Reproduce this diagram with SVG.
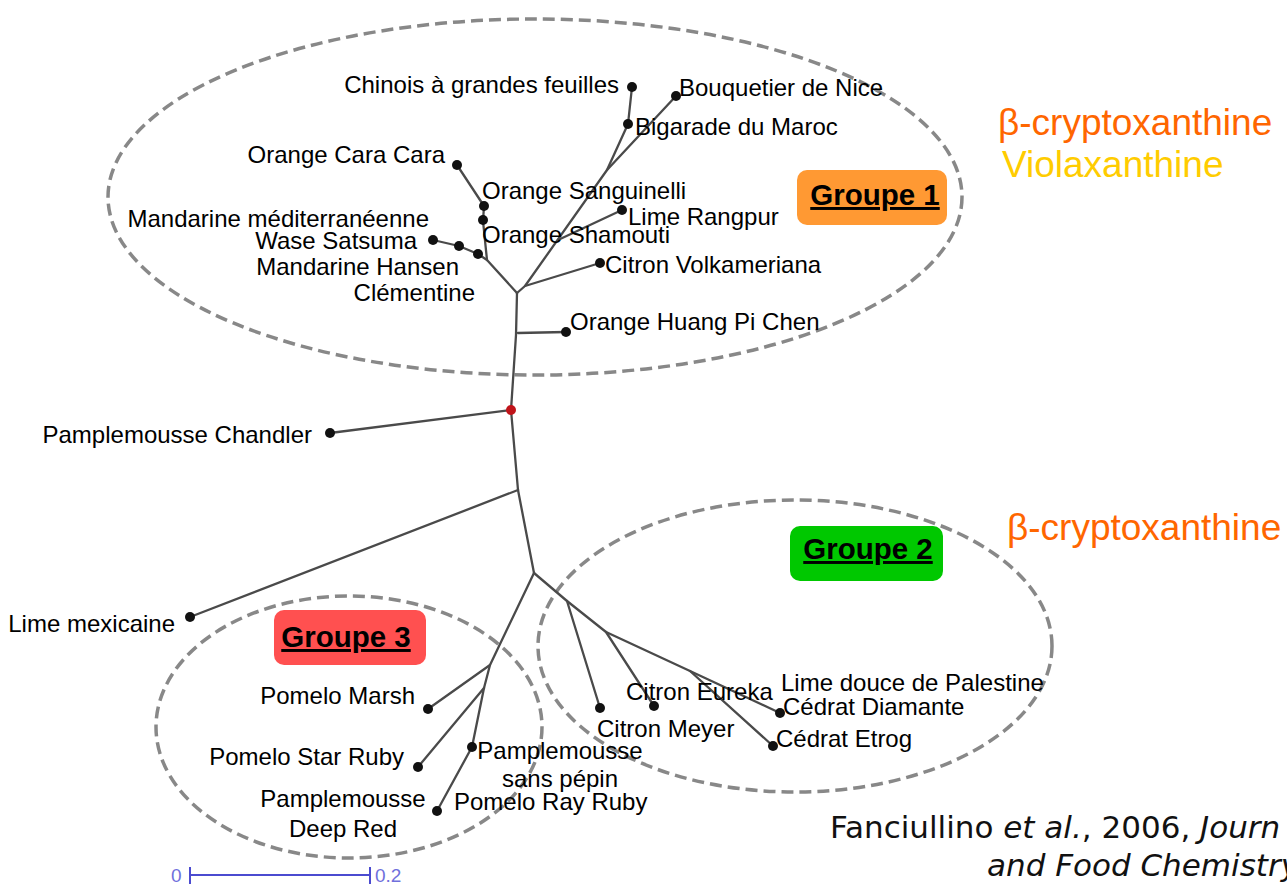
<svg xmlns="http://www.w3.org/2000/svg" width="1287" height="893" viewBox="0 0 1287 893">
<defs>
<style>
.lbl{font-family:"Liberation Sans",Arial,sans-serif;font-size:24px;fill:#000}
.grp{font-family:"Liberation Sans",Arial,sans-serif;font-size:29.5px;font-weight:bold;fill:#000;text-decoration:underline;text-anchor:middle}
.pig{font-family:"Liberation Sans",Arial,sans-serif;font-size:37px}
.cite{font-family:"DejaVu Sans","Liberation Sans",sans-serif;font-size:31px;fill:#111}
.ell{fill:none;stroke:#888;stroke-width:3.5;stroke-dasharray:12 6}
.br{fill:none;stroke:#4a4a4a;stroke-width:2.3;stroke-linejoin:round;stroke-linecap:round}
.nd{fill:#111}
.sc{stroke:#4b4bd0;stroke-width:2;fill:none}
.sct{font-family:"Liberation Sans",Arial,sans-serif;font-size:19px;fill:#7070dc}
</style>
</defs>
<rect width="1287" height="893" fill="#fff"/>

<g id="group-ellipses">
<ellipse id="ellipse-1" class="ell" cx="535" cy="197" rx="427" ry="178"/>
<ellipse id="ellipse-2" class="ell" cx="795" cy="646" rx="257" ry="146"/>
<ellipse id="ellipse-3" class="ell" cx="349" cy="727" rx="193" ry="131"/>
</g>

<g id="connectors">
<path class="br" d="M511,410 L516,335 L517,293"/>
<path class="br" d="M518,333 L566,332"/>
<path class="br" d="M517,293 L487,260 L483,221 L484,206 L457,165"/>
<path class="br" d="M487,260 L478,254 L459,246 L433,240"/>
<path class="br" d="M517,293 L525,286 L607,170 L628,124 L632,87"/>
<path class="br" d="M607,170 L676,96"/>
<path class="br" d="M558,240 L622,210"/>
<path class="br" d="M525,286 L600,263"/>
<path class="br" d="M511,410 L330,433"/>
<path class="br" d="M511,410 L518,490 L534,573"/>
<path class="br" d="M518,490 L190,617"/>
<path class="br" d="M534,573 L490,665 L484,688 L472,747 L437,811"/>
<path class="br" d="M490,665 L428,709"/>
<path class="br" d="M484,688 L418,767"/>
<path class="br" d="M534,573 L567,601 L606,632 L690,671 L780,713"/>
<path class="br" d="M690,671 L773,746"/>
<path class="br" d="M567,601 L600,708"/>
<path class="br" d="M606,632 L654,706"/>
</g>

<g id="root-node"><circle cx="511" cy="410" r="5" fill="#c0141a"/></g>

<g id="n-chinois"><circle class="nd" cx="632" cy="87" r="5"/><text class="lbl" x="619" y="93" text-anchor="end">Chinois à grandes feuilles</text></g>
<g id="n-bouquetier"><circle class="nd" cx="676" cy="96" r="5"/><text class="lbl" x="679" y="96">Bouquetier de Nice</text></g>
<g id="n-bigarade"><circle class="nd" cx="628" cy="124" r="5"/><text class="lbl" x="635" y="135">Bigarade du Maroc</text></g>
<g id="n-caracara"><circle class="nd" cx="457" cy="165" r="5"/><text class="lbl" x="445" y="163" text-anchor="end">Orange Cara Cara</text></g>
<g id="n-sanguinelli"><circle class="nd" cx="484" cy="206" r="5"/><text class="lbl" x="482" y="199">Orange Sanguinelli</text></g>
<g id="n-shamouti"><circle class="nd" cx="483" cy="220" r="5"/><text class="lbl" x="482" y="243">Orange Shamouti</text></g>
<g id="n-rangpur"><circle class="nd" cx="622" cy="210" r="5"/><text class="lbl" x="628" y="225">Lime Rangpur</text></g>
<g id="n-mandarine-med"><text class="lbl" x="429" y="227" text-anchor="end">Mandarine méditerranéenne</text></g>
<g id="n-wase"><circle class="nd" cx="433" cy="240" r="5"/><text class="lbl" x="417" y="249" text-anchor="end">Wase Satsuma</text></g>
<g id="n-hansen"><circle class="nd" cx="459" cy="246" r="5"/><text class="lbl" x="459" y="275" text-anchor="end">Mandarine Hansen</text></g>
<g id="n-clementine"><circle class="nd" cx="478" cy="254" r="5"/><text class="lbl" x="475" y="301" text-anchor="end">Clémentine</text></g>
<g id="n-volkameriana"><circle class="nd" cx="600" cy="263" r="5"/><text class="lbl" x="605" y="273">Citron Volkameriana</text></g>
<g id="n-huangpichen"><circle class="nd" cx="566" cy="332" r="5"/><text class="lbl" x="570" y="330">Orange Huang Pi Chen</text></g>
<g id="n-chandler"><circle class="nd" cx="330" cy="433" r="5"/><text class="lbl" x="312" y="443" text-anchor="end">Pamplemousse Chandler</text></g>
<g id="n-mexicaine"><circle class="nd" cx="190" cy="617" r="5"/><text class="lbl" x="175" y="632" text-anchor="end">Lime mexicaine</text></g>
<g id="n-marsh"><circle class="nd" cx="428" cy="709" r="5"/><text class="lbl" x="415" y="704" text-anchor="end">Pomelo Marsh</text></g>
<g id="n-starruby"><circle class="nd" cx="418" cy="767" r="5"/><text class="lbl" x="404" y="765" text-anchor="end">Pomelo Star Ruby</text></g>
<g id="n-deepred"><circle class="nd" cx="437" cy="811" r="5"/><text class="lbl" x="343" y="807" text-anchor="middle">Pamplemousse</text><text class="lbl" x="343" y="837" text-anchor="middle">Deep Red</text></g>
<g id="n-sanspepin"><circle class="nd" cx="472" cy="747" r="5"/><text class="lbl" x="560" y="759" text-anchor="middle">Pamplemousse</text><text class="lbl" x="560" y="787" text-anchor="middle">sans pépin</text></g>
<g id="n-rayruby"><text class="lbl" x="454" y="810">Pomelo Ray Ruby</text></g>
<g id="n-meyer"><circle class="nd" cx="600" cy="708" r="5"/><text class="lbl" x="597" y="737">Citron Meyer</text></g>
<g id="n-eureka"><circle class="nd" cx="654" cy="706" r="5"/><text class="lbl" x="626" y="700">Citron Eureka</text></g>
<g id="n-palestine"><text class="lbl" x="781" y="691">Lime douce de Palestine</text></g>
<g id="n-diamante"><circle class="nd" cx="780" cy="713" r="5"/><text class="lbl" x="783" y="715">Cédrat Diamante</text></g>
<g id="n-etrog"><circle class="nd" cx="773" cy="746" r="5"/><text class="lbl" x="776" y="747">Cédrat Etrog</text></g>

<g id="groupe-1"><rect x="797" y="170" width="150" height="55" rx="10" fill="#ff9933"/><text class="grp" x="875" y="205">Groupe 1</text></g>
<g id="groupe-2"><rect x="790" y="526" width="153" height="55" rx="10" fill="#00c800"/><text class="grp" x="868" y="559">Groupe 2</text></g>
<g id="groupe-3"><rect x="274" y="610" width="152" height="55" rx="10" fill="#ff5050"/><text class="grp" x="346" y="647">Groupe 3</text></g>

<g id="pigments">
<text class="pig" x="998" y="135" fill="#ff6600">β-cryptoxanthine</text>
<text class="pig" x="1002" y="177" fill="#ffcc00">Violaxanthine</text>
<text class="pig" x="1007" y="540" fill="#ff6600">β-cryptoxanthine</text>
</g>

<g id="citation">
<text class="cite" x="830" y="838">Fanciullino <tspan font-style="italic">et al.</tspan>, 2006, <tspan font-style="italic">Journ</tspan></text>
<text class="cite" x="987" y="876" font-style="italic">and Food Chemistry</text>
</g>

<g id="scale-bar">
<path class="sc" d="M190,875 L370,875 M190,867 L190,884 M370,867 L370,884"/>
<text class="sct" x="171" y="882">0</text>
<text class="sct" x="375" y="882">0.2</text>
</g>
</svg>
